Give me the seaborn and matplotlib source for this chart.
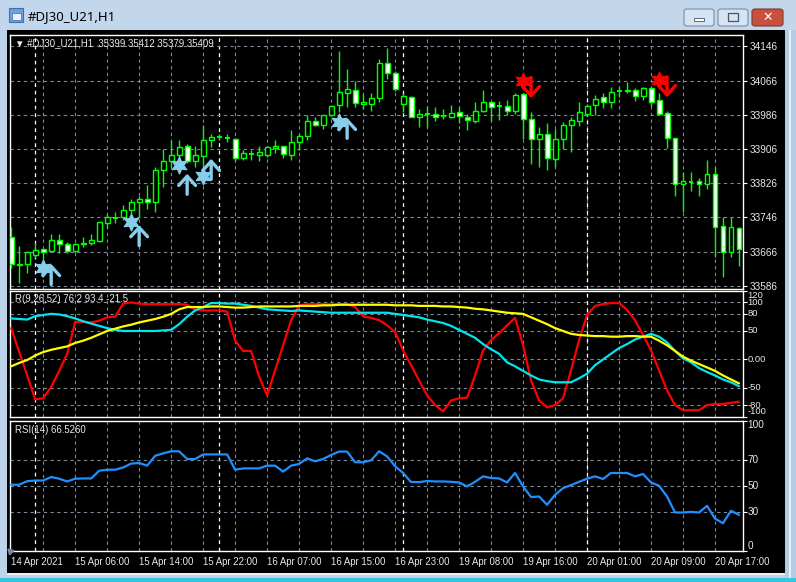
import numpy as np
import pandas as pd
import seaborn as sns
import matplotlib
matplotlib.use("Agg")
import matplotlib.pyplot as plt
from matplotlib.patches import Rectangle, FancyBboxPatch
import matplotlib.transforms as mtransforms

# ---------------- data ----------------
opens = [33700, 33634, 33636, 33659, 33671, 33668, 33694, 33683, 33668, 33683,
         33686, 33691, 33733, 33745, 33746, 33763, 33781, 33790, 33781, 33858,
         33878, 33893, 33914, 33879, 33889, 33927, 33933, 33932, 33930, 33886,
         33895, 33891, 33892, 33909, 33913, 33892, 33923, 33936, 33972, 33963,
         33986, 34009, 34038, 34044, 34011, 34011, 34025, 34107, 34085, 34011,
         34027, 33982, 33988, 33988, 33984, 33982, 33992, 33982, 33971, 33994,
         34015, 34007, 34006, 33994, 34035, 33976, 33930, 33940, 33883, 33930,
         33962, 33971, 33988, 34009, 34028, 34016, 34041, 34042, 34044, 34030,
         34049, 34021, 33990, 33932, 33825, 33829, 33831, 33823, 33848, 33725,
         33664, 33721]
highs = [33724, 33679, 33668, 33685, 33672, 33708, 33707, 33689, 33686, 33700,
         33706, 33735, 33755, 33759, 33774, 33788, 33795, 33821, 33865, 33906,
         33927, 33927, 33918, 33914, 33963, 33941, 33941, 33940, 33932, 33904,
         33903, 33912, 33912, 33926, 33914, 33951, 33941, 33986, 33980, 33986,
         34010, 34136, 34093, 34064, 34035, 34038, 34116, 34142, 34089, 34036,
         34030, 34000, 34007, 34005, 34000, 34010, 34005, 33988, 34015, 34044,
         34019, 34019, 34021, 34038, 34038, 33992, 33958, 33966, 33953, 33970,
         33982, 34017, 34011, 34033, 34037, 34050, 34050, 34062, 34048, 34052,
         34050, 34038, 33996, 33932, 33852, 33852, 33839, 33881, 33864, 33746,
         33746, 33724]
lows = [33627, 33593, 33616, 33650, 33648, 33665, 33663, 33663, 33665, 33677,
        33681, 33689, 33720, 33733, 33739, 33755, 33747, 33766, 33759, 33817,
        33864, 33879, 33873, 33865, 33865, 33910, 33926, 33922, 33879, 33881,
        33881, 33879, 33887, 33896, 33886, 33881, 33903, 33927, 33961, 33953,
        33984, 33992, 34005, 34005, 34000, 33996, 34015, 34070, 34042, 33992,
        33980, 33957, 33957, 33972, 33976, 33979, 33968, 33951, 33968, 33992,
        33972, 33974, 33986, 33988, 33930, 33871, 33864, 33857, 33865, 33906,
        33898, 33961, 33984, 33986, 34003, 34003, 34027, 34036, 34019, 34021,
        34007, 33986, 33909, 33795, 33759, 33808, 33795, 33813, 33654, 33607,
        33654, 33633]
closes = [33637, 33638, 33665, 33670, 33666, 33694, 33683, 33667, 33683, 33687,
          33694, 33734, 33746, 33745, 33764, 33781, 33790, 33781, 33858, 33879,
          33893, 33910, 33879, 33891, 33927, 33935, 33933, 33932, 33886, 33897,
          33895, 33898, 33910, 33914, 33895, 33923, 33937, 33972, 33963, 33986,
          34007, 34040, 34046, 34013, 34015, 34025, 34107, 34085, 34046, 34029,
          33982, 33988, 33988, 33982, 33984, 33990, 33984, 33974, 33994, 34015,
          34005, 34007, 33996, 34032, 33976, 33930, 33940, 33886, 33930, 33962,
          33974, 33992, 34007, 34024, 34016, 34040, 34041, 34044, 34030, 34049,
          34017, 33988, 33932, 33825, 33830, 33829, 33823, 33848, 33724, 33665,
          33724, 33672]

r_red = [55, 13, -28, -70, -68, -48, -20, 10, 66, 66,
         65, 68, 74, 75, 98, 100, 98, 97, 97, 97,
         97, 97, 96, 87, 86, 86, 86, 84, 33, 15,
         15, -30, -63, -19, 25, 69, 95, 97, 97, 97,
         97, 97, 97, 92, 76, 73, 69, 60, 48, 16,
         -10, -37, -63, -80, -91, -72, -68, -67, -28, 16,
         34, 46, 60, 73, 25, -37, -72, -84, -80, -68,
         -19, 34, 78, 94, 97, 99, 99, 87, 69, 43,
         16, -19, -54, -80, -89, -89, -89, -80, -78, -78,
         -76, -74]
r_cyan = [72, 71, 70, 76, 78, 80, 79, 76, 72, 67,
          63, 59, 55, 52, 50, 50, 50, 50, 50, 51,
          52, 62, 75, 86, 92, 99, 99, 98, 98, 96,
          94, 91, 88, 87, 86, 85, 86, 85, 84, 83,
          82, 82, 82, 82, 82, 82, 82, 82, 80, 78,
          76, 74, 70, 67, 64, 59, 52, 45, 38, 27,
          18, 10, -5, -12, -20, -28, -35, -38, -40, -40,
          -40, -33, -25, -10, 0, 10, 20, 27, 35, 40,
          45, 40, 30, 15, 2, -5, -15, -22, -28, -35,
          -40, -47]
r_yellow = [-12, -6, -1, 7, 13, 17, 20, 23, 29, 33,
            38, 44, 50, 54, 58, 61, 65, 68, 71, 75,
            80, 88, 92, 92, 92, 93, 93, 92, 91, 91,
            92, 93, 93, 93, 93, 93, 94, 94, 94, 95,
            95, 96, 96, 96, 96, 96, 96, 96, 95, 95,
            95, 94, 94, 94, 93, 93, 92, 91, 89, 88,
            86, 84, 82, 81, 80, 74, 68, 62, 55, 50,
            45, 43, 42, 41, 41, 40, 40, 41, 41, 40,
            40, 33, 25, 15, 5, -2, -8, -14, -20, -28,
            -35, -42]
rsi = [50.8, 50.8, 53.5, 54, 54, 56.7, 55.4, 53.3, 55.4, 55.6,
       55.6, 61.5, 62.3, 62.3, 64, 67, 67.4, 65.4, 73, 74.8,
       76.4, 76.4, 70.5, 70.5, 74, 74, 74, 74, 62.3, 63.3,
       63.3, 63.3, 65.4, 65.4, 60.8, 65.4, 66.7, 71, 68.7, 70.5,
       73.6, 76.2, 76.2, 68, 68, 69.5, 76.4, 72.5, 65, 59.8,
       52.8, 52.8, 53.6, 53.3, 53.3, 53, 52.5, 49.5, 53, 57.2,
       55.9, 55.6, 52.5, 59.8, 49.5, 41.3, 41.8, 35.4, 43, 48.2,
       50.5, 53, 55.4, 57.2, 55.2, 59.8, 59.8, 59.8, 57.2, 59,
       52.5, 50, 41.8, 29.5, 29.5, 30, 29.5, 34.6, 24.8, 21.3,
       30.8, 27.7]

buy_star_idx = [4, 15, 21, 24, 41]
buy_star_price = [33627, 33735, 33868, 33842, 33970]
buy_arrow_idx = [5, 16, 22, 25, 42]
buy_arrow_tip = [33637, 33728, 33848, 33883, 33979]
sell_star_idx = [64, 81]
sell_star_price = [34064, 34068]
sell_arrow_idx = [65, 82]
sell_arrow_tip = [34025, 34027]

price_ticks = [34146, 34066, 33986, 33906, 33826, 33746, 33666, 33586]
r_ticks = [120, 100, 80, 50, 0, -50, -80, -100]
r_tick_labels = ["120", "100", "80", "50", "0.00", "-50", "-80", "-100"]
rsi_ticks = [100, 70, 50, 30, 0]
time_tick_idx = [0, 8, 16, 24, 32, 40, 48, 56, 64, 72, 80, 88]
time_labels = ["14 Apr 2021", "15 Apr 06:00", "15 Apr 14:00", "15 Apr 22:00",
               "16 Apr 07:00", "16 Apr 15:00", "16 Apr 23:00", "19 Apr 08:00",
               "19 Apr 16:00", "20 Apr 01:00", "20 Apr 09:00", "20 Apr 17:00"]
day_sep_idx = [3, 26, 49, 72]

n = len(opens)
idx = np.arange(n)
df = pd.DataFrame({"i": idx, "open": opens, "high": highs, "low": lows, "close": closes,
                   "red": r_red, "cyan": r_cyan, "yellow": r_yellow, "rsi": rsi})

# ---------------- style ----------------
sns.set_theme(style="dark")
plt.rcParams["font.family"] = ["Liberation Sans", "DejaVu Sans"]
W, H = 796, 582
fig = plt.figure(figsize=(W / 100, H / 100), dpi=100)
fig.patch.set_facecolor("#BDD3EA")

def frect(l, t, r, b):
    return [l / W, 1 - b / H, (r - l) / W, (b - t) / H]

def add_rect(l, t, r, b, fc, ec="none", lw=0, z=0, rounded=False):
    if rounded:
        p = FancyBboxPatch((l / W, 1 - b / H), (r - l) / W, (b - t) / H,
                           boxstyle="round,pad=0,rounding_size=0.004",
                           transform=fig.transFigure, fc=fc, ec=ec, lw=lw, zorder=z)
    else:
        p = Rectangle((l / W, 1 - b / H), (r - l) / W, (b - t) / H,
                      transform=fig.transFigure, fc=fc, ec=ec, lw=lw, zorder=z)
    fig.add_artist(p)

# window chrome
add_rect(0, 0, 796, 30, "#C3D7EC")
add_rect(7, 30, 785, 573, "black")
add_rect(7, 573, 785, 575, "#E8F0F8")
add_rect(0, 578, 796, 582, "#3FC1E0")
add_rect(785, 30, 796, 578, "#B5CCE6")
add_rect(789, 30, 791, 578, "#E6EEF7")
add_rect(9, 8, 23, 22, "#6FA0D8", ec="#3E6FB0", lw=0.8)
add_rect(12, 13, 21, 20, "#E8F2FF", ec="#3E6FB0", lw=0.5)
fig.text(28 / W, 1 - 17 / H, "#DJ30_U21,H1", color="black", fontsize=9.5,
         va="center", ha="left", family=["Noto Sans", "DejaVu Sans"])
add_rect(684, 9, 714, 26, "#D5E3F2", ec="#7A8CA5", lw=0.8, rounded=True)
add_rect(718, 9, 748, 26, "#D5E3F2", ec="#7A8CA5", lw=0.8, rounded=True)
add_rect(752, 9, 783, 26, "#C8503F", ec="#7A3A30", lw=0.8, rounded=True)
add_rect(694, 18, 704, 21, "white", ec="#44546A", lw=0.6)
add_rect(728, 13, 738, 21, "none", ec="#44546A", lw=0.9)
fig.text(767.5 / W, 1 - 17.5 / H, "✕", color="white", fontsize=9, ha="center",
         va="center", fontweight="bold", family=["DejaVu Sans"])

GRID = "#7A8899"
TXT = "#E8E8E8"
FS = 6.9

ax1 = fig.add_axes(frect(10, 34.5, 743, 288.5))
ax2 = fig.add_axes(frect(10, 290.5, 743, 416.5), sharex=ax1)
ax3 = fig.add_axes(frect(10, 420.5, 743, 551), sharex=ax1)

for ax in (ax1, ax2, ax3):
    ax.set_facecolor("black")
    for s in ax.spines.values():
        s.set_color("white")
        s.set_linewidth(1.0)
    ax.grid(False)
    ax.yaxis.tick_right()
    ax.tick_params(axis="y", colors="white", direction="out", length=3, width=0.8,
                   labelsize=7.2, labelcolor=TXT, pad=1.5)
    ax.tick_params(axis="x", colors="white", direction="out", length=3, width=0.8,
                   labelsize=FS, labelcolor=TXT, pad=1.5)
    ax.set_xlim(-0.15, 91.5)
    for v in range(4, n, 4):
        ax.axvline(v, color=GRID, lw=0.8, ls=(0, (3, 3)), zorder=1)
    for v in day_sep_idx:
        ax.axvline(v, color="white", lw=0.9, ls=(0, (3, 3)), zorder=1)

# ---------------- main price panel ----------------
ax1.set_ylim(33579.5, 34174)
for p in price_ticks:
    ax1.axhline(p, color=GRID, lw=0.8, ls=(0, (3, 3)), zorder=1)
ax1.set_yticks(price_ticks)
ax1.set_yticklabels([str(p) for p in price_ticks])
ax1.tick_params(axis="x", bottom=False, labelbottom=False)

bw = 0.62
for _, r in df.iterrows():
    i, o, h, l, c = r["i"], r["open"], r["high"], r["low"], r["close"]
    top, bot = max(o, c), min(o, c)
    ax1.vlines(i, l, bot, color="#00FF00", lw=1.0, zorder=3)
    ax1.vlines(i, top, h, color="#00FF00", lw=1.0, zorder=3)
    if top - bot < 1.5:
        ax1.hlines(top, i - bw / 2, i + bw / 2, color="#00FF00", lw=1.4, zorder=4)
    else:
        fc = "black" if c > o else "white"
        ax1.add_patch(Rectangle((i - bw / 2, bot), bw, top - bot, fc=fc,
                                ec="#00FF00", lw=1.0, zorder=4))

# signals
sns.scatterplot(x=buy_star_idx, y=buy_star_price, ax=ax1, marker=(6, 1, 0), s=150,
                color="#87CEEB", edgecolor="#87CEEB", linewidth=0.8, zorder=6, legend=False)
sns.scatterplot(x=sell_star_idx, y=sell_star_price, ax=ax1, marker=(6, 1, 0), s=150,
                color="#FF0000", edgecolor="#FF0000", linewidth=0.8, zorder=6, legend=False)
arrow_len = 48
astyle = "->,head_length=0.6,head_width=0.55"
for i, tip in zip(buy_arrow_idx, buy_arrow_tip):
    ax1.annotate("", xy=(i, tip), xytext=(i, tip - arrow_len),
                 arrowprops=dict(arrowstyle=astyle, color="#87CEEB", lw=2.4,
                                 mutation_scale=11, shrinkA=0, shrinkB=0), zorder=6)
for i, tip in zip(sell_arrow_idx, sell_arrow_tip):
    ax1.annotate("", xy=(i, tip), xytext=(i, tip + arrow_len),
                 arrowprops=dict(arrowstyle=astyle, color="#FF0000", lw=2.4,
                                 mutation_scale=11, shrinkA=0, shrinkB=0), zorder=6)

ax1.text(0.007, 0.968, "▼ #DJ30_U21,H1  35399 35412 35379 35409", transform=ax1.transAxes,
         color=TXT, fontsize=FS, va="center", ha="left", zorder=8,
         family=["Liberation Sans", "DejaVu Sans"])

# ---------------- R indicator panel ----------------
ax2.set_ylim(-100, 121)
for v in [100, 80, 50, 0, -50, -80]:
    ax2.axhline(v, color=GRID, lw=0.8, ls=(0, (3, 3)), zorder=1)
sns.lineplot(data=df, x="i", y="red", ax=ax2, color="#FF0000", lw=1.6, zorder=3)
sns.lineplot(data=df, x="i", y="cyan", ax=ax2, color="#00E5EE", lw=1.6, zorder=4)
sns.lineplot(data=df, x="i", y="yellow", ax=ax2, color="#FFFF00", lw=1.6, zorder=5)
ax2.set_yticks(r_ticks)
ax2.set_yticklabels([])
tr2 = mtransforms.blended_transform_factory(ax2.transAxes, ax2.transData)
for v, lab in zip(r_ticks, r_tick_labels):
    va = "top" if v == 120 else ("bottom" if v == -100 else "center")
    ax2.text(1.006, v, lab, transform=tr2, color=TXT, fontsize=6.8, va=va, ha="left",
             clip_on=False)
ax2.tick_params(axis="x", bottom=False, labelbottom=False)
ax2.set_xlabel(""); ax2.set_ylabel("")
ax2.text(0.007, 0.93, "R(9,26,52) 76.2 93.4 -21.5", transform=ax2.transAxes,
         color=TXT, fontsize=FS, va="center", ha="left", zorder=8)

# ---------------- RSI panel ----------------
ax3.set_ylim(0, 100)
for v in [70, 50, 30]:
    ax3.axhline(v, color=GRID, lw=0.8, ls=(0, (3, 3)), zorder=1)
sns.lineplot(data=df, x="i", y="rsi", ax=ax3, color="#1E90FF", lw=1.6, zorder=3)
ax3.set_yticks(rsi_ticks)
ax3.set_yticklabels([])
tr3 = mtransforms.blended_transform_factory(ax3.transAxes, ax3.transData)
for v in rsi_ticks:
    va = "top" if v == 100 else ("bottom" if v == 0 else "center")
    ax3.text(1.006, v, str(v), transform=tr3, color=TXT, fontsize=7.2, va=va, ha="left",
             clip_on=False)
ax3.set_xlabel(""); ax3.set_ylabel("")
ax3.set_xticks(time_tick_idx)
ax3.set_xticklabels(time_labels, ha="left")
for lab in ax3.get_xticklabels():
    lab.set_horizontalalignment("left")
ax3.text(0.007, 0.93, "RSI(14) 66.5260", transform=ax3.transAxes,
         color=TXT, fontsize=FS, va="center", ha="left", zorder=8)
ax3.plot([0.0], [0.0], marker=(3, 0, 45), color="#7A8899", ms=5, transform=ax3.transAxes,
         clip_on=False, zorder=9)

fig.savefig("out.png", dpi=100, facecolor=fig.get_facecolor())
